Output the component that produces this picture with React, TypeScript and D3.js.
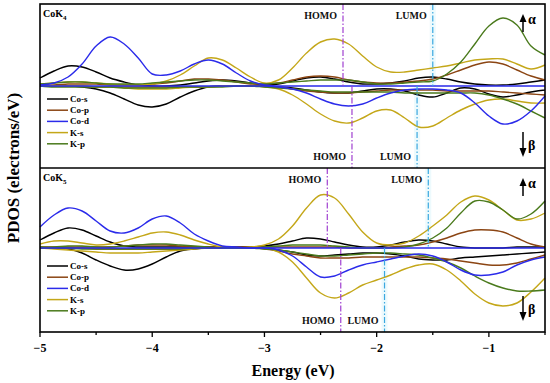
import React from "react";
import * as d3 from "d3";

// Energy grid (eV)
const energy = [
  -5, -4.875, -4.75, -4.625, -4.5, -4.375, -4.25, -4.125, -4, -3.875, -3.75, -3.625, -3.5,
  -3.375, -3.25, -3.125, -3, -2.875, -2.75, -2.625, -2.5, -2.375, -2.25, -2.125, -2,
  -1.875, -1.75, -1.625, -1.5, -1.375, -1.25, -1.125, -1, -0.875, -0.75, -0.625, -0.5,
];

// CoK4 (alpha = up, beta = down)
const k4CoSUp = [8,15,20,19,14,8,4,1,0,0,1,3,5,6,5,3,1, 2,5,8,9,7,4,2,2,3,5,8,9,7,4,2,1,1,2,4,6];
const k4CoSDn = [0,0,0,-1,-3,-7,-13,-19,-21,-18,-11,-5,-1,0,0,0,0, -1,-2,-4,-6,-7,-7,-5,-3,-3,-5,-9,-11,-7,-2,-3,-8,-11,-9,-6,-4];
const k4CoPUp = [1,1,2,2,2,1,1,1,2,3,5,7,7,6,4,2,2, 3,6,9,10,9,6,4,3,3,4,5,7,11,16,21,24,22,16,10,6];
const k4CoPDn = [0,0,0,0,-1,-1,-1,-1,-1,-1,-1,-1,-1,0,0,0,0, -1,-3,-5,-6,-7,-7,-6,-5,-4,-4,-4,-4,-5,-5,-5,-5,-6,-7,-8,-9];
const k4CoDUp = [1,3,9,22,40,49,42,28,12,11,15,22,26,22,13,5,1, 0,0,0,0,0,0,0,0,0,0,0,0,0,0,0,0,0,0,0,0];
const k4CoDDn = [0,0,0,0,0,0,0,0,0,0,0,0,0,0,0,0,0, -1,-3,-7,-13,-18,-20,-18,-12,-7,-4,-3,-3,-4,-7,-17,-30,-38,-35,-25,-10];
const k4KSUp = [2,3,4,4,3,2,1,1,2,5,11,20,28,26,18,9,3, 6,18,33,44,47,42,30,19,14,14,16,18,20,23,26,27,27,22,17,21];
const k4KSDn = [0,0,0,0,-1,-1,-2,-3,-3,-3,-2,-1,-1,0,0,0,-1, -3,-9,-18,-28,-35,-37,-32,-25,-24,-32,-41,-40,-32,-24,-18,-14,-13,-15,-17,-17];
const k4KPUp = [2,3,4,4,3,2,2,2,3,4,5,6,6,5,4,3,2, 3,4,5,6,6,6,4,2,2,3,4,5,12,24,42,60,68,61,40,31];
const k4KPDn = [0,-1,-1,-1,-1,-1,-2,-2,-2,-2,-1,-1,-1,-1,0,0,-1, -2,-3,-4,-5,-6,-6,-6,-6,-6,-7,-7,-7,-7,-7,-7,-9,-13,-18,-25,-32];

// CoK5
const k5CoSUp = [8,15,20,18,12,6,2,1,1,1,1,1,1,1,1,1,2, 4,7,10,9,6,3,1,1,3,6,8,7,4,1,0,0,0,1,1,1];
const k5CoSDn = [0,0,-1,-5,-12,-18,-22,-21,-16,-9,-3,-1,0,0,0,0,0, -2,-4,-7,-8,-7,-6,-5,-5,-6,-8,-11,-12,-12,-10,-9,-8,-7,-6,-5,-4];
const k5CoPUp = [1,1,1,1,1,1,2,3,3,3,2,1,1,1,1,1,1, 1,1,1,1,1,0,0,0,1,2,3,6,10,15,18,18,16,10,4,1];
const k5CoPDn = [0,0,0,0,-1,-1,-1,-1,-1,-1,-1,0,0,0,0,0,-1, -3,-6,-8,-10,-10,-10,-9,-9,-9,-9,-9,-10,-11,-13,-15,-17,-17,-15,-11,-7];
const k5CoDUp = [21,33,40,37,27,17,15,20,29,32,25,14,7,2,1,0,0, 0,0,0,0,0,0,0,0,0,0,0,0,0,0,0,0,0,0,0,0];
const k5CoDDn = [0,0,0,0,0,0,0,0,0,0,0,0,0,0,0,0,0, -2,-8,-19,-29,-28,-22,-17,-14,-11,-8,-6,-8,-14,-22,-27,-27,-24,-17,-12,-9];
const k5KSUp = [4,7,7,5,3,4,7,11,15,16,13,8,4,1,0,1,3, 9,22,40,53,50,34,16,5,3,5,12,22,33,46,52,48,38,28,29,35];
const k5KSDn = [0,-1,-2,-3,-4,-5,-5,-5,-4,-3,-2,-1,0,0,0,0,0, -4,-14,-30,-45,-50,-45,-37,-32,-27,-21,-17,-16,-22,-33,-46,-55,-58,-55,-44,-30];
const k5KPUp = [1,1,2,2,1,1,2,3,4,4,3,2,1,0,0,0,1, 2,3,3,3,2,1,0,0,0,1,4,10,20,35,47,46,38,29,34,47];
const k5KPDn = [0,0,0,-1,-1,-1,-1,-1,-1,-1,-1,0,0,0,0,0,-1, -2,-4,-6,-8,-8,-7,-6,-5,-5,-6,-7,-10,-14,-20,-28,-35,-40,-43,-43,-42];

const seriesNames = ["Co-s", "Co-p", "Co-d", "K-s", "K-p"];
const seriesColors = ["#000000", "#8B4513", "#2B2BEA", "#C4A719", "#4A7A1C"];
const drawOrder = [0, 1, 3, 4, 2];

const k4Up = [k4CoSUp, k4CoPUp, k4CoDUp, k4KSUp, k4KPUp];
const k4Dn = [k4CoSDn, k4CoPDn, k4CoDDn, k4KSDn, k4KPDn];
const k5Up = [k5CoSUp, k5CoPUp, k5CoDUp, k5KSUp, k5KPUp];
const k5Dn = [k5CoSDn, k5CoPDn, k5CoDDn, k5KSDn, k5KPDn];

// HOMO / LUMO energies (eV): [alphaHOMO, alphaLUMO, betaHOMO, betaLUMO]
const k4Levels = [-2.3, -1.5, -2.22, -1.64];
const k5Levels = [-2.44, -1.54, -2.32, -1.93];

const xTicks = [-5, -4, -3, -2, -1];
const xMinorTicks = [-4.5, -3.5, -2.5, -1.5, -0.5];

const FONT = "Liberation Serif, Times New Roman, DejaVu Serif, serif";
const L = 40, R = 545, T = 4, MID = 168, B = 332;
const HOMO_C = "#A040D0";
const LUMO_C = "#3AA8E0";

const x = d3.scaleLinear().domain([-5, -0.5]).range([L, R]);

const tStyle = { fontFamily: FONT, fontWeight: 700 as const };

function Panel({ y0, y1, domain, ups, dns, levels, sub, legendTop }: any) {
  const y = d3.scaleLinear().domain(domain).range([y1, y0]);
  const zero = y(0);
  const line = d3
    .line<number>()
    .x((_, i) => x(energy[i]))
    .y((v) => y(v))
    .curve(d3.curveCatmullRom.alpha(0.5));
  const [aH, aL, bH, bL] = levels;
  const vline = (e: number, ya: number, yb: number, color: string, key: string, band: boolean) => (
    <g key={key}>
      {band && (
        <rect x={x(e) - 3} y={Math.min(ya, yb)} width={6} height={Math.abs(yb - ya)} fill="#D8F3FA" opacity={0.45} />
      )}
      {!band && (
        <line x1={x(e)} x2={x(e)} y1={ya} y2={yb} stroke={color} strokeWidth={1.2} strokeDasharray="6,2,1.5,2" />
      )}
    </g>
  );
  const lbl = (e: number, yy: number, text: string, key: string) => (
    <text key={key} x={x(e) - 6} y={yy} textAnchor="end" style={tStyle} fontSize={10} fill="#111">
      {text}
    </text>
  );
  return (
    <g>
      {vline(aL, y0, zero, LUMO_C, "al", true)}
      {vline(bL, zero, y1, LUMO_C, "bl", true)}
      {drawOrder.map((k) => (
        <g key={k}>
          <path d={line(ups[k]) || ""} fill="none" stroke={seriesColors[k]} strokeWidth={1.4} />
          <path d={line(dns[k]) || ""} fill="none" stroke={seriesColors[k]} strokeWidth={1.4} />
        </g>
      ))}
      {vline(aH, y0, zero, HOMO_C, "ah", false)}
      {vline(bH, zero, y1, HOMO_C, "bh", false)}
      {vline(aL, y0, zero, LUMO_C, "al2", false)}
      {vline(bL, zero, y1, LUMO_C, "bl2", false)}
      {lbl(aH, y0 + 15, "HOMO", "t1")}
      {lbl(aL, y0 + 15, "LUMO", "t2")}
      {lbl(bH, y1 - 8, "HOMO", "t3")}
      {lbl(bL, y1 - 8, "LUMO", "t4")}
      <text x={L + 3} y={y0 + 13} style={tStyle} fontSize={10}>
        CoK<tspan fontSize={7} dy={3}>{sub}</tspan>
      </text>
      {seriesNames.map((n, k) => {
        const ly = legendTop + k * 11.2;
        return (
          <g key={n}>
            <line x1={47} x2={68} y1={ly} y2={ly} stroke={seriesColors[k]} strokeWidth={1.5} />
            <text x={70} y={ly + 3} style={tStyle} fontSize={9}>
              {n}
            </text>
          </g>
        );
      })}
      <path d={`M523,${y0 + 28} L523,${y0 + 16}`} stroke="#000" strokeWidth={1.5} />
      <path d={`M519.5,${y0 + 18} L523,${y0 + 10} L526.5,${y0 + 18} Z`} fill="#000" />
      <text x={528} y={y0 + 20} style={tStyle} fontSize={14}>α</text>
      <path d={`M523,${y1 - 36} L523,${y1 - 20}`} stroke="#000" strokeWidth={1.5} />
      <path d={`M519.5,${y1 - 20} L523,${y1 - 11} L526.5,${y1 - 20} Z`} fill="#000" />
      <text x={528} y={y1 - 18} style={tStyle} fontSize={14}>β</text>
    </g>
  );
}

export default function App() {
  return (
    <svg width={550} height={383} style={{ position: "absolute", left: 0, top: 0, background: "#fff" }}>
      <rect width={550} height={383} fill="#fff" />
      <Panel y0={T} y1={MID} domain={[-82, 82]} ups={k4Up} dns={k4Dn} levels={k4Levels} sub="4" legendTop={99} />
      <Panel y0={MID} y1={B} domain={[-84, 80]} ups={k5Up} dns={k5Dn} levels={k5Levels} sub="5" legendTop={266} />
      <rect x={L} y={T} width={R - L} height={B - T} fill="none" stroke="#000" strokeWidth={1.6} />
      <line x1={L} x2={R} y1={MID} y2={MID} stroke="#000" strokeWidth={1.6} />
      {xTicks.map((t) => (
        <g key={t}>
          <line x1={x(t)} x2={x(t)} y1={B} y2={B + 5} stroke="#000" strokeWidth={1.3} />
          <text x={x(t)} y={B + 20} textAnchor="middle" style={tStyle} fontSize={12}>
            {"\u2212" + Math.abs(t)}
          </text>
        </g>
      ))}
      {xMinorTicks.map((t) => (
        <line key={t} x1={x(t)} x2={x(t)} y1={B} y2={B + 3} stroke="#000" strokeWidth={1.3} />
      ))}
      <text x={293} y={376} textAnchor="middle" style={tStyle} fontSize={16}>
        Energy (eV)
      </text>
      <text transform="translate(19,168) rotate(-90)" textAnchor="middle" style={tStyle} fontSize={17}>
        PDOS (electrons/eV)
      </text>
    </svg>
  );
}
